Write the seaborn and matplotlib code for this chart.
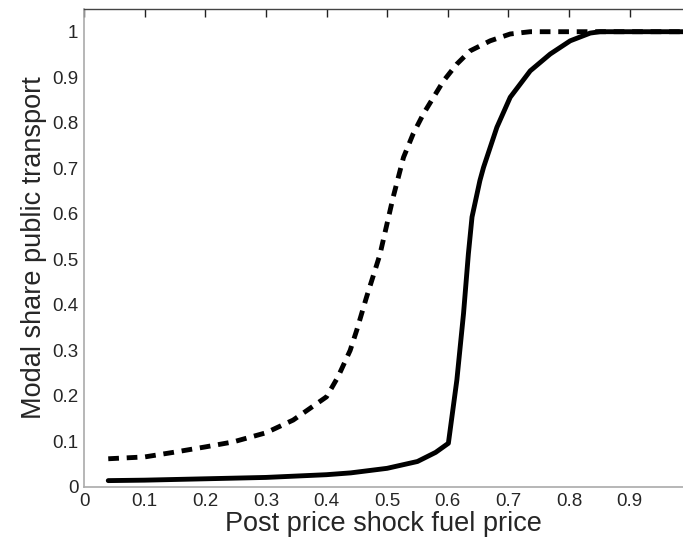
import seaborn as sns
import matplotlib.pyplot as plt
import pandas as pd

# values
dashed_x = [0.04, 0.10, 0.147, 0.20, 0.246, 0.30, 0.345, 0.40, 0.419, 0.439, 0.45, 0.466,
            0.488, 0.51, 0.527, 0.543, 0.56, 0.593, 0.615, 0.637, 0.67, 0.703, 0.736, 0.80, 0.99]
dashed_y = [0.062, 0.066, 0.076, 0.088, 0.099, 0.119, 0.147, 0.198, 0.242, 0.300, 0.345, 0.417,
            0.51, 0.637, 0.724, 0.776, 0.82, 0.892, 0.929, 0.958, 0.98, 0.995, 1.0, 1.0, 1.0]

solid_x = [0.04, 0.10, 0.20, 0.30, 0.40, 0.44, 0.50, 0.55, 0.58, 0.601, 0.615, 0.626, 0.634,
           0.640, 0.653, 0.659, 0.681, 0.703, 0.736, 0.769, 0.802, 0.835, 0.851, 0.90, 0.99]
solid_y = [0.014, 0.015, 0.018, 0.021, 0.027, 0.031, 0.041, 0.056, 0.076, 0.096, 0.235, 0.381, 0.512,
           0.593, 0.673, 0.702, 0.79, 0.856, 0.914, 0.951, 0.98, 0.997, 1.0, 1.0, 1.0]

xticks = [0, 0.1, 0.2, 0.3, 0.4, 0.5, 0.6, 0.7, 0.8, 0.9]
xtick_labels = ["0", "0.1", "0.2", "0.3", "0.4", "0.5", "0.6", "0.7", "0.8", "0.9"]
yticks = [0, 0.1, 0.2, 0.3, 0.4, 0.5, 0.6, 0.7, 0.8, 0.9, 1.0]
ytick_labels = ["0", "0.1", "0.2", "0.3", "0.4", "0.5", "0.6", "0.7", "0.8", "0.9", "1"]

sns.set_style("white")
plt.rcParams['font.family'] = ['Liberation Sans', 'DejaVu Sans']

df_dash = pd.DataFrame({"x": dashed_x, "y": dashed_y})
df_solid = pd.DataFrame({"x": solid_x, "y": solid_y})

fig = plt.figure(figsize=(6.83, 5.42), dpi=100)
ax = fig.add_axes([0.123, 0.1015, 0.877, 0.882])

sns.lineplot(data=df_dash, x="x", y="y", ax=ax, color="black", linewidth=3.5,
             linestyle=(0, (2.2, 1.6)))
sns.lineplot(data=df_solid, x="x", y="y", ax=ax, color="black", linewidth=3.5)

ax.set_xlim(0, 0.988)
ax.set_ylim(0, 1.05)
ax.set_xticks(xticks)
ax.set_xticklabels(xtick_labels)
ax.set_yticks(yticks)
ax.set_yticklabels(ytick_labels)
ax.tick_params(direction="in", length=6, width=1, color="#222222", labelsize=13.5,
               top=True, right=False, pad=4)

ax.set_xlabel("Post price shock fuel price", fontsize=19.5, labelpad=1)
ax.set_ylabel("Modal share public transport", fontsize=19.5, labelpad=4)

for side in ["left", "bottom"]:
    ax.spines[side].set_color("#aaaaaa")
    ax.spines[side].set_linewidth(1.2)
ax.spines["top"].set_color("#444444")
ax.spines["top"].set_linewidth(1.0)
ax.spines["right"].set_visible(False)

fig.savefig("out.png", dpi=100)
